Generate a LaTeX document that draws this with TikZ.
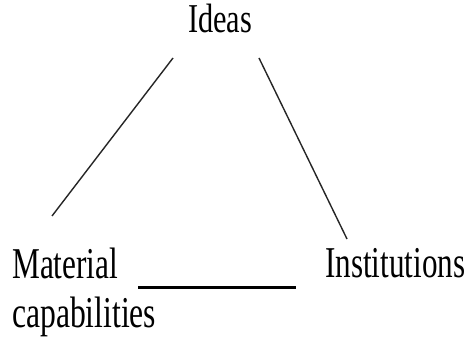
\documentclass[tikz,border=0pt]{standalone}
\usepackage{fontspec}
\setmainfont{Liberation Serif}
\begin{document}
\begin{tikzpicture}[x=1pt,y=-1pt,
  lbl/.style={inner sep=0pt, anchor=base west},
  link/.style={line width=1.4pt, draw=black!85},
  boldlink/.style={line width=3pt, draw=black}]
\useasboundingbox[fill=white] (0,0) rectangle (468,339);
\node[lbl, font=\fontsize{41}{41}\selectfont] (ideas) at (188,33) {\resizebox{64pt}{\height}{Ideas}};
\node[lbl, font=\fontsize{44}{49}\selectfont, align=left] (mat) at (12,327) {\resizebox{106pt}{\height}{Material}\\\resizebox{144pt}{\height}{capabilities}};
\node[lbl, font=\fontsize{44}{44}\selectfont] (inst) at (325,277) {\resizebox{140pt}{\height}{Institutions}};
\coordinate (ideasL) at (173,58);
\coordinate (matT) at (52,216);
\coordinate (ideasR) at (259,58);
\coordinate (instT) at (347,239);
\coordinate (matR) at (138,287);
\coordinate (instL) at (296,287);
\draw[link] (ideasL) -- (matT);
\draw[link] (ideasR) -- (instT);
\draw[boldlink] (matR) -- (instL);
\end{tikzpicture}
\end{document}
